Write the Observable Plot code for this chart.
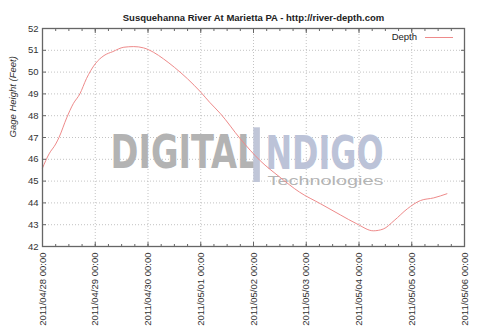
<!DOCTYPE html>
<html>
<head>
<meta charset="utf-8">
<script src="https://cdn.jsdelivr.net/npm/d3@7"></script>
<script src="https://cdn.jsdelivr.net/npm/@observablehq/plot@0.6"></script>
<style>
  html, body { margin: 0; padding: 0; background: #fff; }
  #wrap { position: relative; width: 480px; height: 336px; }
  #legend { position: absolute; left: 360px; top: 31px; width: 100px; height: 12px;
    font: 9.5px "Liberation Sans", Arial, sans-serif; color: #222; }
</style>
</head>
<body>
<div id="wrap"></div>
<script>
const title = "Susquehanna River At Marietta PA - http://river-depth.com";
const yLabel = "Gage Height (Feet)";
const seriesName = "Depth";

const times = [
  "2011-04-28 00:00", "2011-04-28 03:00", "2011-04-28 06:00", "2011-04-28 07:30",
  "2011-04-28 11:00", "2011-04-28 14:00", "2011-04-28 17:00", "2011-04-28 20:00",
  "2011-04-29 00:00", "2011-04-29 04:00", "2011-04-29 08:00", "2011-04-29 13:00",
  "2011-04-29 17:30", "2011-04-29 22:00", "2011-04-30 02:30", "2011-04-30 07:00",
  "2011-04-30 12:00", "2011-04-30 18:00", "2011-05-01 00:00", "2011-05-01 04:00",
  "2011-05-01 09:00", "2011-05-01 18:00", "2011-05-02 03:00", "2011-05-02 12:00",
  "2011-05-02 21:00", "2011-05-03 06:30", "2011-05-03 15:30", "2011-05-03 23:00",
  "2011-05-04 06:30", "2011-05-04 11:00", "2011-05-04 16:00", "2011-05-04 22:00",
  "2011-05-05 04:00", "2011-05-05 10:00", "2011-05-05 16:00"
];
const depth = [
  45.60, 46.25, 46.70, 47.00,
  47.90, 48.55, 49.00, 49.70,
  50.38, 50.76, 50.94, 51.14,
  51.17, 51.11, 50.91, 50.61,
  50.22, 49.69, 49.08, 48.62,
  48.09, 46.94, 45.94, 45.18,
  44.49, 43.96, 43.45, 43.04,
  42.72, 42.80, 43.19, 43.73,
  44.11, 44.23, 44.42
];
const xDomain = ["2011-04-28 00:00", "2011-05-06 00:00"];
const yDomain = [42, 52];
const yTicks = [42, 43, 44, 45, 46, 47, 48, 49, 50, 51, 52];
const watermark = ["DIGITAL", "I", "NDIGO", "Technologies"];

const parse = d3.utcParse("%Y-%m-%d %H:%M");
const data = times.map((t, i) => ({date: parse(t), depth: depth[i]}));
const x0 = parse(xDomain[0]), x1 = parse(xDomain[1]);
const dayTicks = d3.utcDay.range(x0, d3.utcDay.offset(x1, 1));
const minorTicks = d3.utcHour.every(6).range(x0, x1);
const fmt = d3.utcFormat("%Y/%m/%d %H:%M");

const lineColor = "#ee8a8a";
const font = '"Liberation Sans", Arial, sans-serif';
const wmFont = '"Liberation Sans Narrow", "DejaVu Sans Condensed", "Liberation Sans", sans-serif';

const plot = Plot.plot({
  width: 480,
  height: 336,
  marginLeft: 42,
  marginRight: 16,
  marginTop: 28,
  marginBottom: 90,
  style: {fontFamily: font, fontSize: "9.5px", color: "#333", background: "#fff"},
  x: {type: "utc", domain: [x0, x1]},
  y: {domain: yDomain},
  marks: [
    Plot.gridX(dayTicks, {stroke: "#aaa", strokeOpacity: 0.7, strokeDasharray: "1,2"}),
    Plot.gridY(yTicks, {stroke: "#aaa", strokeOpacity: 0.7, strokeDasharray: "1,2"}),
    // watermark
    Plot.text([watermark[0]], {frameAnchor: "middle", text: d => d, dx: -143, dy: 30, textAnchor: "start",
      lineAnchor: "bottom", fontSize: 46, fontWeight: "bold", fontFamily: wmFont, fill: "#b3b3b3"}),
    Plot.text([watermark[1]], {frameAnchor: "middle", text: d => d, dx: 3, dy: 44, textAnchor: "middle",
      lineAnchor: "bottom", fontSize: 74, fontFamily: wmFont, fill: "#c0c6d8"}),
    Plot.text([watermark[2]], {frameAnchor: "middle", text: d => d, dx: 12, dy: 31, textAnchor: "start",
      lineAnchor: "bottom", fontSize: 46, fontWeight: "bold", fontFamily: wmFont, fill: "#bcc3d8"}),
    Plot.text([watermark[3]], {frameAnchor: "middle", text: d => d, dx: 14, dy: 47, textAnchor: "start",
      lineAnchor: "bottom", fontSize: 12, fill: "#b4b4b4"}),
    // data
    Plot.line(data, {x: "date", y: "depth", stroke: lineColor, strokeWidth: 1, curve: "monotone-x"}),
    Plot.frame({stroke: "#666", strokeWidth: 1.3}),
    // tick labels
    Plot.axisY({ticks: yTicks, tickSize: 0, tickPadding: 4, label: null, fill: "#333"}),
    Plot.axisX({ticks: dayTicks, tickSize: 0, tickPadding: 6, tickRotate: -90, tickFormat: fmt, label: null, fill: "#333"}),
    // inward tick marks (gnuplot style)
    Plot.axisY({ticks: yTicks, anchor: "left", tickSize: 4, dx: 4, text: null, label: null, stroke: "#666"}),
    Plot.axisY({ticks: yTicks, anchor: "right", tickSize: 4, dx: -4, text: null, label: null, stroke: "#666"}),
    Plot.axisX({ticks: dayTicks, anchor: "bottom", tickSize: 4, dy: -4, text: null, label: null, stroke: "#666"}),
    Plot.axisX({ticks: dayTicks, anchor: "top", tickSize: 4, dy: 4, text: null, label: null, stroke: "#666"}),
    Plot.axisX({ticks: minorTicks, anchor: "bottom", tickSize: 2, dy: -2, text: null, label: null, stroke: "#666"}),
    Plot.axisX({ticks: minorTicks, anchor: "top", tickSize: 2, dy: 2, text: null, label: null, stroke: "#666"}),
    // y label
    Plot.text([yLabel], {frameAnchor: "left", text: d => d, rotate: -90, dx: -30, fontStyle: "italic",
      fontSize: 9.5, fill: "#333"}),
    // title
    Plot.text([title], {frameAnchor: "top", text: d => d, dy: -14, fontWeight: "bold", fontSize: 9.5, fill: "#222"})
  ]
});

const widths = {"DIGITAL": 148, "NDIGO": 118, "Technologies": 116};
d3.select(plot).selectAll("text").each(function() {
  const w = widths[this.textContent];
  if (w) {
    this.setAttribute("textLength", w);
    this.setAttribute("lengthAdjust", "spacingAndGlyphs");
  }
});

const wrap = document.getElementById("wrap");
wrap.appendChild(plot);

const legend = document.createElement("div");
legend.id = "legend";
legend.innerHTML = `<span style="position:absolute;right:43px;top:0;line-height:12px">${seriesName}</span>
<svg width="30" height="12" style="position:absolute;left:65px;top:0"><line x1="0" x2="28" y1="6.5" y2="6.5" stroke="${lineColor}" stroke-width="1"/></svg>`;
wrap.appendChild(legend);
</script>
</body>
</html>
